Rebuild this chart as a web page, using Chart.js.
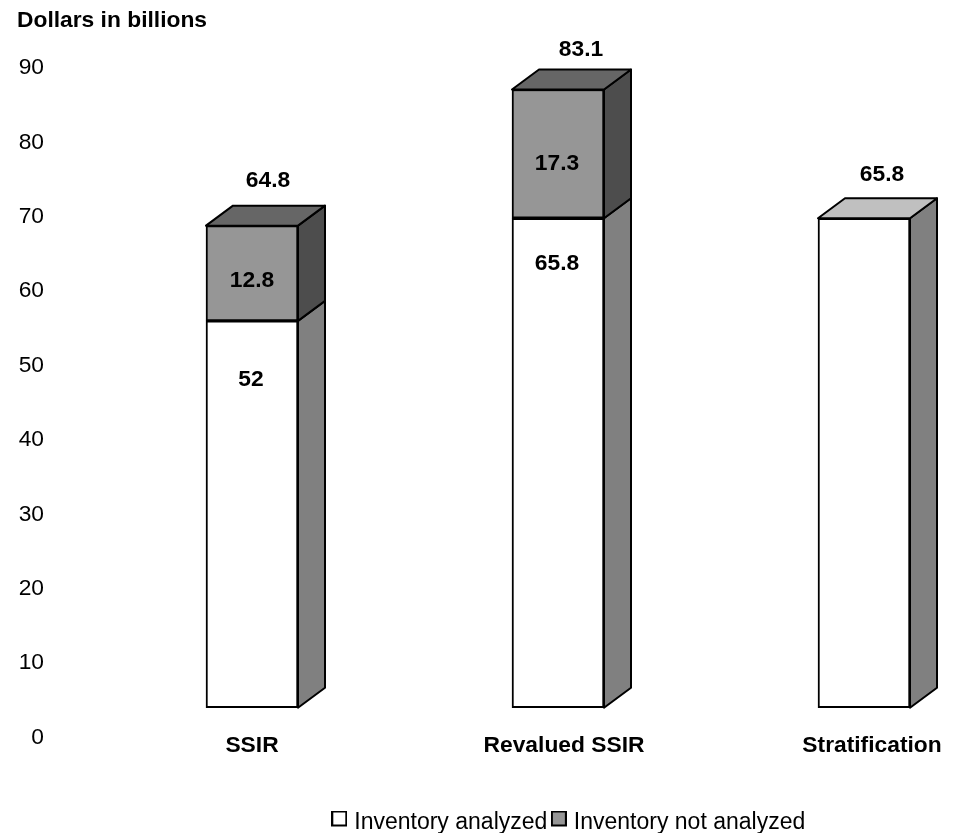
<!DOCTYPE html>
<html>
<head>
<meta charset="utf-8">
<title>Inventory chart</title>
<script src="https://cdn.jsdelivr.net/npm/chart.js@4"></script>
<style>
  html, body { margin: 0; padding: 0; background: #fff; overflow: hidden; }
  #wrap { width: 959px; height: 833px; }
</style>
</head>
<body>
<div id="wrap"><canvas id="myChart"></canvas></div>
<script>
// Chart data
const categories = ["SSIR", "Revalued SSIR", "Stratification"];
const analyzed = [52, 65.8, 65.8];
const notAnalyzed = [12.8, 17.3, null];
const totals = [64.8, 83.1, 65.8];
const yTicks = [0, 10, 20, 30, 40, 50, 60, 70, 80, 90];

// Look of the fake 3D boxes
const depthX = 27;
const depthY = 20;
const floorGap = 4; // the front of the boxes sits this many units above the printed zero
const fontName = "'Liberation Sans', Arial, sans-serif";

// Nudges in pixels, the labels in the original are placed by hand
const categoryShift = [0, 6, 8];
const totalShift = [[16, -45], [23, -40], [18, -44]];
const analyzedShift = [[-1, 59], [-1, 45]];
const notAnalyzedShift = [[0, 55], [-1, 74]];
const legendShiftX = 130;
const legendShiftY = 11;

function facePath(ctx, points, fill) {
  ctx.beginPath();
  points.forEach((p, i) => i ? ctx.lineTo(p[0], p[1]) : ctx.moveTo(p[0], p[1]));
  ctx.closePath();
  ctx.fillStyle = fill;
  ctx.fill();
  ctx.stroke();
}

// Legend swatch sits a little above the text middle, so it gets its own small canvas
function legendBox(fill) {
  const box = document.createElement("canvas");
  box.width = 16;
  box.height = 24;
  const ctx = box.getContext("2d");
  ctx.fillStyle = fill;
  ctx.strokeStyle = "#000";
  ctx.lineWidth = 2;
  ctx.fillRect(1, 1, 14, 14);
  ctx.strokeRect(1, 1, 14, 14);
  return box;
}
const legendBoxes = [legendBox("#ffffff"), legendBox("#969696")];

const boxFaces = {
  id: "boxFaces",
  afterDatasetsDraw(chart) {
    const ctx = chart.ctx;
    ctx.save();
    ctx.strokeStyle = "#000";
    ctx.lineWidth = 2;
    ctx.lineJoin = "round";
    chart.data.datasets.forEach((set, d) => {
      chart.getDatasetMeta(d).data.forEach((bar, i) => {
        if (set.data[i] === null) return;
        const right = bar.x + bar.width / 2;
        const left = bar.x - bar.width / 2;
        // side of the box
        facePath(ctx, [[right, bar.y], [right + depthX, bar.y - depthY],
          [right + depthX, bar.base - depthY], [right, bar.base]], set.sideColor);
        // lid, only on the upper part of the stack
        const next = chart.data.datasets[d + 1];
        if (!next || next.data[i] === null) {
          facePath(ctx, [[left, bar.y], [left + depthX, bar.y - depthY],
            [right + depthX, bar.y - depthY], [right, bar.y]], set.topColor);
        }
      });
    });
    ctx.restore();
  }
};

const boxLabels = {
  id: "boxLabels",
  // legend goes under the bars, not under the whole canvas
  afterLayout(chart) {
    chart.legend.left += legendShiftX;
    chart.legend.right += legendShiftX;
    chart.legend.top += legendShiftY;
    chart.legend.bottom += legendShiftY;
  },
  afterDraw(chart) {
    const ctx = chart.ctx;
    const low = chart.getDatasetMeta(0).data;
    const high = chart.getDatasetMeta(1).data;
    ctx.save();
    ctx.fillStyle = "#000";
    ctx.font = "bold 22.8px " + fontName;
    ctx.textAlign = "center";
    ctx.textBaseline = "middle";
    categories.forEach((name, i) => {
      ctx.fillText(name, low[i].x + categoryShift[i], 746);
      const top = notAnalyzed[i] === null ? low[i] : high[i];
      ctx.fillText(totals[i], top.x + totalShift[i][0], top.y + totalShift[i][1]);
      if (notAnalyzed[i] !== null) {
        ctx.fillText(analyzed[i], low[i].x + analyzedShift[i][0], low[i].y + analyzedShift[i][1]);
        ctx.fillText(notAnalyzed[i], high[i].x + notAnalyzedShift[i][0], high[i].y + notAnalyzedShift[i][1]);
      }
    });
    ctx.restore();
  }
};

new Chart(document.getElementById("myChart"), {
  type: "bar",
  data: {
    labels: categories,
    datasets: [
      {
        label: "Inventory analyzed",
        data: analyzed,
        backgroundColor: "#ffffff",
        sideColor: "#808080",
        topColor: "#c0c0c0",
        borderColor: "#000",
        borderWidth: 2,
        borderSkipped: false,
        barThickness: 92,
        clip: false,
        yAxisID: "yBox"
      },
      {
        label: "Inventory not analyzed",
        data: notAnalyzed,
        backgroundColor: "#969696",
        sideColor: "#4d4d4d",
        topColor: "#666666",
        borderColor: "#000",
        borderWidth: 2,
        borderSkipped: false,
        barThickness: 92,
        clip: false,
        yAxisID: "yBox"
      }
    ]
  },
  options: {
    responsive: true,
    maintainAspectRatio: false,
    animation: false,
    layout: { padding: { left: 17, right: 95, top: 7, bottom: 0 } },
    scales: {
      x: {
        stacked: true,
        offset: false,
        grid: { display: false },
        border: { display: false },
        ticks: { display: false },
        afterFit: (axis) => {
          axis.height = 54.5;
          axis.paddingLeft = 0;
          axis.paddingRight = 0;
        }
      },
      y: {
        position: "left",
        min: 0,
        max: 90,
        grid: { display: false },
        border: { display: false },
        afterBuildTicks: (axis) => { axis.ticks = yTicks.map(v => ({ value: v })); },
        afterFit: (axis) => {
          axis.width = 235;
          // big tick padding is only wanted sideways
          axis.paddingTop = 0;
          axis.paddingBottom = 0;
        },
        ticks: {
          padding: 200,
          color: "#000",
          font: { family: fontName, size: 22.8 }
        }
      },
      // same height as y, slid up to the front plane of the boxes
      yBox: {
        display: false,
        stacked: true,
        min: -floorGap,
        max: 90 - floorGap
      }
    },
    plugins: {
      title: {
        display: true,
        text: "Dollars in billions",
        align: "start",
        color: "#000",
        font: { family: fontName, size: 22.8, weight: "bold" },
        padding: { top: 0, bottom: 33.6 }
      },
      legend: {
        position: "bottom",
        labels: {
          usePointStyle: true,
          boxWidth: 7,
          boxHeight: 14,
          padding: 8,
          color: "#000",
          font: { family: fontName, size: 23 },
          generateLabels: (chart) => Chart.defaults.plugins.legend.labels.generateLabels(chart)
            .map((item, i) => ({ ...item, pointStyle: legendBoxes[i] }))
        }
      },
      tooltip: { enabled: false }
    }
  },
  plugins: [boxFaces, boxLabels]
});
</script>
</body>
</html>
